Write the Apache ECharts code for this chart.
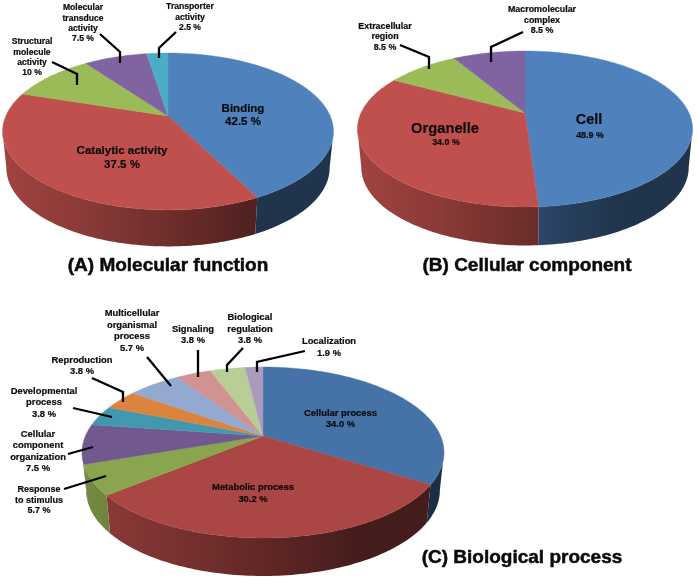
<!DOCTYPE html>
<html><head><meta charset="utf-8">
<style>html,body{margin:0;padding:0;background:#fff}#c{width:699px;height:582px}</style>
<script src="https://cdn.jsdelivr.net/npm/echarts@6/dist/echarts.min.js"></script>
</head><body><div id="c"></div>
<script>
// ---- data ----
const molecularNames = ['Binding','Catalytic activity','Structural molecule activity','Molecular transduce activity','Transporter activity'];
const molecularValues = [42.5,37.5,10,7.5,2.5];
const cellularNames = ['Cell','Organelle','Extracellular region','Macromolecular complex'];
const cellularValues = [48.9,34.0,8.5,8.5];
const biologicalNames = ['Cellular process','Metabolic process','Response to stimulus','Cellular component organization','Developmental process','Reproduction','Multicellular organismal process','Signaling','Biological regulation','Localization'];
const biologicalValues = [34.0,30.2,5.7,7.5,3.8,3.8,5.7,3.8,3.8,1.9];

// ---- styles ----
const officeColors = ['#4f81bd','#c0504d','#9bbb59','#8064a2','#4bacc6'];
const bioColors = ['#4572a7','#aa4643','#89a54e','#71588f','#4198af','#db843d','#93a9cf','#d19392','#b9cd96','#a99bbd'];

// ---- pie geometry: apex, projective depth k, half axes, wall height ----
const pieA = {cx:168,ay:116,a:162.2,b:75.4,k:0.197,h:36.5,s:0.977};
const pieB = {cx:525,ay:113,a:164,b:74.7,k:0.205,h:38.5,s:0.977};
const pieC = {cx:263,ay:436,a:177.6,b:82.3,k:0.193,h:38,s:0.977};

function rim(g,t){
  const X=Math.sin(t),Y=-Math.cos(t),w=1-g.k*Y;
  return [g.cx+g.a*X/w, g.ay+g.b*Y/w];
}
function low(g,p){ return [g.cx+(p[0]-g.cx)*g.s, p[1]+g.h]; }
function shade(hex,f){
  const n=parseInt(hex.slice(1),16);
  return 'rgb('+[(n>>16)&255,(n>>8)&255,n&255].map(v=>Math.round(v*f)).join(',')+')';
}
function angles(values,i){
  const tot=values.reduce((p,c)=>p+c,0);
  let acc=0; for(let j=0;j<i;j++) acc+=values[j];
  return [acc/tot*2*Math.PI,(acc+values[i])/tot*2*Math.PI];
}
function topSeries(g,names,values,colors){
  return {type:'custom',coordinateSystem:'none',silent:true,z:3,animation:false,
    data:values.map((v,i)=>({name:names[i],value:[v]})),
    renderItem(params,api){
      const i=params.dataIndex,[t0,t1]=angles(values,i);
      const n=Math.max(4,Math.ceil((t1-t0)/0.02)),pts=[[g.cx,g.ay]];
      for(let j=0;j<=n;j++) pts.push(rim(g,t0+(t1-t0)*j/n));
      const c=colors[i%colors.length];
      return {type:'polygon',shape:{points:pts},style:{fill:c,stroke:c,lineWidth:0.4}};
    }};
}
function wallSeries(g,names,values,colors){
  const from=Math.acos(-g.k),to=2*Math.PI-from;
  const rx=g.a/Math.sqrt(1-g.k*g.k);
  return {type:'custom',coordinateSystem:'none',silent:true,z:2,animation:false,
    data:values.map((v,i)=>({name:names[i],value:[v]})),
    renderItem(params,api){
      const i=params.dataIndex,[a0,a1]=angles(values,i);
      const t0=Math.max(a0,from),t1=Math.min(a1,to);
      if(t1<=t0) return null;
      const n=Math.max(4,Math.ceil((t1-t0)/0.02)),up=[],dn=[];
      for(let j=0;j<=n;j++){const p=rim(g,t0+(t1-t0)*j/n);up.push(p);dn.unshift(low(g,p));}
      const c=colors[i%colors.length];
      const fill=new echarts.graphic.LinearGradient(g.cx-rx,0,g.cx+rx,0,[
        {offset:0,color:shade(c,0.84)},{offset:0.25,color:shade(c,0.72)},
        {offset:0.52,color:shade(c,0.56)},{offset:0.78,color:shade(c,0.4)},
        {offset:1,color:shade(c,0.4)}],true);
      return {type:'polygon',shape:{points:up.concat(dn)},style:{fill,stroke:null}};
    }};
}

// ---- text and leaders ----
const FONT='"Liberation Sans", Arial, sans-serif';
const ink='#0a0a0a';
function txt(s,x,y,size){
  return {type:'text',z:10,silent:true,style:{text:s,x,y,fill:ink,stroke:ink,lineWidth:size>15?0.5:0.2,align:'center',verticalAlign:'middle',
    font:'bold '+size+'px '+FONT}};
}
function lines(arr,x,ys,size){return arr.map((s,i)=>txt(s,x,ys[i],size));}
function lead(pts){
  return {type:'polyline',z:9,silent:true,shape:{points:pts},style:{stroke:'#000',lineWidth:2.3,fill:null}};
}
const gfx=[].concat(
  lines(['Binding','42.5 %'],243,[109,122],11.5),
  lines(['Catalytic activity','37.5 %'],122,[151,165],11.5),
  lines(['Structural','molecule','activity','10 %'],32,[42,52.7,63,73],8.6),
  lines(['Molecular','transduce','activity','7.5 %'],83,[8,18.3,28.7,39],8.6),
  lines(['Transporter','activity','2.5 %'],190,[6.7,17.3,28],8.6),
  [txt('(A) Molecular function',168,265.5,19)],
  [lead([[52,62],[77,74],[77,85]]),lead([[100,34],[120,52],[120,63]]),lead([[176,32],[159,48],[159,58]])],

  [txt('Cell',589,120,14.5),txt('48.9 %',590,136,8.9)],
  [txt('Organelle',445,129,14.7),txt('34.0 %',446,143,8.9)],
  lines(['Macromolecular','complex','8.5 %'],542,[10,20.7,31],8.9),
  lines(['Extracellular','region','8.5 %'],385,[26.3,36.7,47.7],8.9),
  [txt('(B) Cellular component',527,265.5,19)],
  [lead([[400,45],[429,57],[429,69]]),lead([[523,32],[491,47],[491,62]])],

  lines(['Multicellular','organismal','process','5.7 %'],132,[313.7,325,336.7,348],9.4),
  lines(['Signaling','3.8 %'],193,[329.3,340.7],9.4),
  lines(['Biological','regulation','3.8 %'],250,[317.7,329.3,340.7],9.4),
  [txt('Localization',329,341.7,9.4),txt('1.9 %',329,353,9.4)],
  lines(['Reproduction','3.8 %'],82,[360,371.3],9.4),
  lines(['Developmental','process','3.8 %'],44,[391,402.7,414],9.4),
  lines(['Cellular','component','organization','7.5 %'],38,[434,445.7,457.3,468.7],9.4),
  lines(['Response','to stimulus','5.7 %'],39,[490,500.3,510.7],9),
  lines(['Cellular process','34.0 %'],340.5,[413,424.7],9.4),
  lines(['Metabolic process','30.2 %'],253,[487.7,499],9.4),
  [txt('(C) Biological process',522,558,19)],
  [lead([[147,357],[171,386]]),lead([[198,350],[198,377]]),lead([[243,348],[227,365],[227,372]]),
   lead([[305,351],[257,362],[257,372]]),lead([[92,378],[123,392],[123,402]]),lead([[73,408],[112,417]]),
   lead([[68,454],[93,447]]),lead([[64,489],[106,476]])]
);

const chart=echarts.init(document.getElementById('c'),null,{renderer:'canvas'});
chart.setOption({
  animation:false,backgroundColor:'#fff',
  graphic:{elements:gfx},
  series:[
    wallSeries(pieA,molecularNames,molecularValues,officeColors),
    topSeries(pieA,molecularNames,molecularValues,officeColors),
    wallSeries(pieB,cellularNames,cellularValues,officeColors),
    topSeries(pieB,cellularNames,cellularValues,officeColors),
    wallSeries(pieC,biologicalNames,biologicalValues,bioColors),
    topSeries(pieC,biologicalNames,biologicalValues,bioColors)
  ]
});
</script></body></html>
